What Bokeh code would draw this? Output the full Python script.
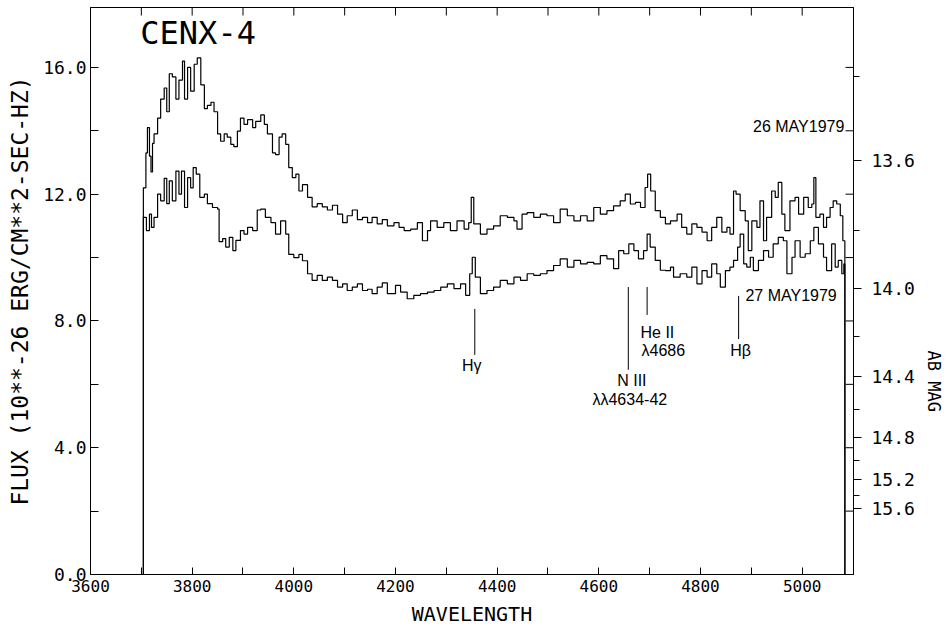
import math
from bokeh.plotting import figure
from bokeh.models import (Range1d, LinearAxis, FixedTicker, CustomJSTickFormatter,
                          PrintfTickFormatter, Label, Title, ColumnDataSource)
from bokeh.embed import file_html
from bokeh.resources import INLINE

# ---------------- data ----------------
wl_26 = [3700, 3704, 3709, 3712, 3716, 3719, 3722, 3725, 3732, 3738, 3745, 3750, 3755, 3761,
         3768, 3774, 3781, 3785, 3791, 3797, 3804, 3810, 3817, 3824, 3830, 3837, 3843, 3850,
         3856, 3863, 3869, 3876, 3882, 3889, 3895, 3902, 3909, 3919, 3925, 3935, 3942, 3948,
         3958, 3964, 3971, 3977, 3984, 3990, 3997, 4004, 4010, 4017, 4027, 4036, 4046, 4056,
         4066, 4076, 4086, 4096, 4105, 4115, 4125, 4135, 4145, 4154, 4164, 4174, 4184, 4197,
         4207, 4217, 4230, 4243, 4253, 4263, 4269, 4282, 4295, 4308, 4321, 4335, 4344, 4349,
         4354, 4367, 4380, 4393, 4406, 4420, 4433, 4439, 4449, 4459, 4472, 4485, 4498, 4511,
         4524, 4538, 4551, 4564, 4577, 4590, 4603, 4616, 4629, 4642, 4652, 4662, 4672, 4682,
         4691, 4696, 4702, 4711, 4721, 4731, 4741, 4754, 4763, 4773, 4783, 4793, 4803, 4813,
         4822, 4832, 4842, 4852, 4858, 4865, 4870, 4878, 4888, 4894, 4901, 4911, 4917, 4924,
         4930, 4940, 4947, 4953, 4960, 4966, 4976, 4986, 4993, 5003, 5012, 5019, 5023, 5027,
         5035, 5042, 5048, 5055, 5061, 5068, 5075, 5080, 5084]
flux_26 = [0.0, 12.2, 13.3, 14.1, 13.2, 12.7, 13.6, 13.9, 14.4, 15.0, 15.35, 14.6, 15.8, 15.7,
           15.0, 15.6, 16.2, 15.0, 16.0, 15.25, 16.1, 16.3, 15.45, 14.7, 14.8, 14.9, 14.6, 13.9,
           13.67, 13.9, 13.8, 13.57, 13.5, 13.99, 14.4, 14.2, 14.35, 14.1, 14.3, 14.5, 14.2, 13.9,
           13.3, 13.25, 13.8, 13.9, 13.57, 12.84, 12.52, 12.63, 12.1, 12.3, 11.9, 11.6, 11.7, 11.6,
           11.5, 11.65, 11.37, 11.1, 11.32, 11.5, 11.2, 11.27, 11.1, 11.27, 11.06, 11.2, 11.0, 11.1,
           10.95, 10.85, 10.9, 11.1, 10.53, 10.85, 11.16, 10.95, 11.1, 10.85, 11.16, 10.9, 11.1, 11.9,
           11.06, 10.74, 10.9, 11.0, 11.32, 11.27, 11.16, 10.9, 11.37, 11.42, 11.27, 11.37, 11.32, 11.1,
           11.53, 11.32, 11.16, 11.32, 11.16, 11.58, 11.37, 11.48, 11.63, 11.79, 12.0, 11.69, 11.74, 11.58,
           12.21, 12.63, 12.1, 11.48, 11.27, 11.06, 11.16, 11.37, 10.95, 10.74, 11.06, 10.95, 10.8, 10.53,
           10.95, 11.27, 10.8, 10.95, 10.74, 12.1, 12.0, 11.48, 11.16, 10.22, 11.16, 10.95, 11.79, 10.53,
           11.27, 12.1, 11.9, 12.37, 11.37, 10.85, 11.79, 11.9, 11.37, 11.9, 11.58, 11.69, 12.52, 11.27,
           11.37, 10.95, 11.27, 11.58, 11.79, 11.69, 11.32, 10.53, 0.0]

wl_27 = [3700, 3704, 3710, 3716, 3720, 3725, 3732, 3738, 3745, 3750, 3755, 3761, 3768, 3774,
         3779, 3785, 3791, 3797, 3802, 3808, 3815, 3824, 3830, 3840, 3850, 3853, 3860, 3866,
         3873, 3880, 3886, 3895, 3902, 3909, 3919, 3928, 3935, 3944, 3955, 3964, 3974, 3984,
         3990, 4000, 4010, 4017, 4027, 4036, 4046, 4056, 4066, 4076, 4086, 4096, 4105, 4115,
         4125, 4135, 4145, 4154, 4164, 4174, 4184, 4200, 4210, 4223, 4236, 4249, 4263, 4276,
         4289, 4302, 4315, 4328, 4338, 4346, 4351, 4357, 4367, 4380, 4393, 4406, 4420, 4433,
         4446, 4459, 4472, 4485, 4498, 4511, 4524, 4538, 4551, 4564, 4577, 4590, 4603, 4616,
         4629, 4639, 4649, 4659, 4669, 4678, 4688, 4695, 4701, 4711, 4721, 4731, 4741, 4747,
         4760, 4773, 4783, 4793, 4803, 4813, 4822, 4832, 4839, 4849, 4858, 4865, 4873, 4878,
         4885, 4891, 4898, 4904, 4914, 4924, 4934, 4943, 4953, 4963, 4970, 4980, 4986, 4996,
         5006, 5016, 5023, 5032, 5042, 5048, 5058, 5065, 5071, 5078, 5082, 5084]
flux_27 = [0.0, 11.27, 10.85, 11.37, 10.95, 11.27, 12.0, 11.79, 12.5, 11.7, 12.42, 11.79, 12.73, 12.0,
           12.73, 11.58, 12.52, 12.2, 12.84, 12.63, 11.9, 12.0, 11.7, 11.58, 11.53, 10.5, 10.6, 10.33,
           10.64, 10.22, 10.54, 10.85, 10.74, 10.95, 10.85, 11.5, 11.53, 11.27, 11.1, 10.74, 11.16, 10.74,
           10.1, 10.0, 10.1, 9.9, 9.49, 9.28, 9.44, 9.28, 9.38, 9.28, 9.07, 9.17, 8.96, 9.07,
           9.17, 8.96, 9.0, 8.86, 9.07, 9.2, 8.86, 9.12, 8.91, 8.7, 8.81, 8.86, 8.91, 8.96,
           9.07, 9.17, 9.02, 9.17, 8.81, 9.49, 10.01, 9.38, 8.86, 8.96, 9.07, 9.28, 9.17, 9.38,
           9.28, 9.49, 9.44, 9.49, 9.59, 9.75, 9.96, 9.7, 9.91, 9.8, 9.85, 9.8, 10.06, 9.96,
           9.65, 10.22, 10.12, 10.43, 10.22, 9.96, 10.22, 10.74, 10.33, 9.91, 9.6, 9.59, 9.7, 9.38,
           9.49, 9.38, 9.7, 9.17, 9.59, 9.38, 9.8, 9.49, 9.07, 9.59, 9.7, 9.91, 10.33, 10.74,
           9.8, 9.7, 10.01, 9.59, 9.91, 10.22, 10.01, 10.43, 10.64, 10.53, 9.49, 10.01, 10.53, 10.01,
           10.12, 10.53, 10.95, 10.43, 10.01, 9.59, 10.43, 9.7, 9.91, 9.49, 9.8, 0.0]

x_major = [3600, 3800, 4000, 4200, 4400, 4600, 4800, 5000]
x_minor = [3700, 3900, 4100, 4300, 4500, 4700, 4900]
y_major = [0, 4, 8, 12, 16]
y_minor = [2, 6, 10, 14]
mag_major = [13.6, 14.0, 14.4, 14.8, 15.2, 15.6]
mag_minor = [13.4, 13.8, 14.2, 14.6, 15.0, 15.4]
AB_ZP = 16.39   # AB mag = ZP - 2.5 log10(F / 1e-26)

# emission-line markers: wavelength, flux top, flux bottom (as drawn)
line_wl = [4356, 4658, 4695, 4875]
line_top = [8.38, 9.07, 9.07, 8.79]
line_bot = [6.93, 6.46, 8.19, 7.43]

MONO = "DejaVu Sans Mono"
SANS = "Liberation Sans"

W, H = 951, 628
BL, BR, BT, BB = 90, 97, 7, 54
FRAME_W = W - BL - BR
FRAME_H = H - BT - BB
TICK_PX = 8

p = figure(width=W, height=H, output_backend="svg", toolbar_location=None,
           x_range=Range1d(3600, 5101), y_range=Range1d(0, 17.89),
           x_axis_location=None, y_axis_location=None,
           min_border_left=BL, min_border_right=BR, min_border_top=BT, min_border_bottom=BB)
p.extra_x_ranges = {"fx": Range1d(0, 1)}
p.extra_y_ranges = {"fy": Range1d(0, 1)}
p.xgrid.visible = False
p.ygrid.visible = False
p.outline_line_color = "black"
p.outline_line_width = 1
p.background_fill_color = "white"
p.border_fill_color = "white"


def style_axis(ax, size="18px"):
    ax.major_label_text_font = MONO
    ax.major_label_text_font_size = size
    ax.major_label_text_color = "black"
    ax.axis_line_color = "black"
    ax.major_tick_line_color = "black"
    ax.minor_tick_line_color = "black"
    ax.axis_label_text_font = MONO
    ax.axis_label_text_font_style = "normal"
    ax.axis_label_text_color = "black"


# bottom axis
xb = LinearAxis(ticker=FixedTicker(ticks=x_major, minor_ticks=x_minor),
                formatter=PrintfTickFormatter(format="%d"), axis_label="WAVELENGTH")
style_axis(xb, "16px")
xb.major_tick_in, xb.major_tick_out = 7, 0
xb.minor_tick_in, xb.minor_tick_out = 7, 0
xb.major_label_standoff = 5
xb.axis_label_standoff = 7
xb.axis_label_text_font_size = "20px"
p.add_layout(xb, "below")

# left axis
yl = LinearAxis(ticker=FixedTicker(ticks=y_major, minor_ticks=y_minor),
                formatter=PrintfTickFormatter(format="%.1f"),
                axis_label="FLUX (10**-26 ERG/CM**2-SEC-HZ)")
style_axis(yl)
yl.major_tick_in, yl.major_tick_out = 8, 0
yl.minor_tick_in, yl.minor_tick_out = 8, 0
yl.major_label_standoff = 4
yl.axis_label_standoff = 7
yl.axis_label_text_font_size = "23px"
p.add_layout(yl, "left")


# right AB magnitude axis
def mag_to_flux(m):
    return 10 ** ((AB_ZP - m) / 2.5)


yr = LinearAxis(ticker=FixedTicker(ticks=[mag_to_flux(m) for m in mag_major],
                                   minor_ticks=[mag_to_flux(m) for m in mag_minor]),
                formatter=CustomJSTickFormatter(
                    code="return (%s - 2.5*Math.log10(tick)).toFixed(1);" % AB_ZP))
style_axis(yr)
yr.major_tick_in, yr.major_tick_out = 0, 8
yr.minor_tick_in, yr.minor_tick_out = 0, 6
yr.major_label_standoff = 10
p.add_layout(yr, "right")

# right axis title, placed lower as in the original
p.add_layout(Title(text="AB MAG", align="left", offset=343, standoff=12,
                   text_font=MONO, text_font_size="17px", text_font_style="normal",
                   text_color="black"), "right")

# mirrored inward ticks on the top (wavelength) and right (flux) frame edges
top_ticks = x_major + x_minor
p.segment(x0=top_ticks, x1=top_ticks,
          y0=[1.0] * len(top_ticks), y1=[1.0 - TICK_PX / FRAME_H] * len(top_ticks),
          y_range_name="fy", line_color="black", line_width=1)
right_ticks = y_major[1:] + y_minor
p.segment(x0=[1.0] * len(right_ticks), x1=[1.0 - TICK_PX / FRAME_W] * len(right_ticks),
          y0=right_ticks, y1=right_ticks,
          x_range_name="fx", line_color="black", line_width=1)

# spectra
src26 = ColumnDataSource(dict(x=wl_26, y=flux_26))
src27 = ColumnDataSource(dict(x=wl_27, y=flux_27))
p.step("x", "y", source=src26, mode="after", line_color="black", line_width=1.2)
p.step("x", "y", source=src27, mode="after", line_color="black", line_width=1.2)

# line markers
p.segment(x0=line_wl, y0=line_bot, x1=line_wl, y1=line_top, line_color="black", line_width=1)


def add_label(x, y, text, size="16px", font=SANS, align="center", baseline="middle"):
    p.add_layout(Label(x=x, y=y, text=text, text_font=font, text_font_size=size,
                       text_align=align, text_baseline=baseline, text_color="black"))


add_label(3698, 17.07, "CENX-4", size="32px", font=MONO, align="left")
add_label(5083, 14.14, "26 MAY1979", align="right")
add_label(5068, 8.79, "27 MAY1979", align="right")
add_label(4350, 6.58, "H\u03b3")
add_label(4665, 6.11, "N III")
add_label(4661, 5.51, "\u03bb\u03bb4634-42")
add_label(4682, 7.62, "He II", align="left")
add_label(4684, 7.06, "\u03bb4686", align="left")
add_label(4879, 7.06, "H\u03b2")

open("out.html", "w").write(file_html(p, INLINE))
